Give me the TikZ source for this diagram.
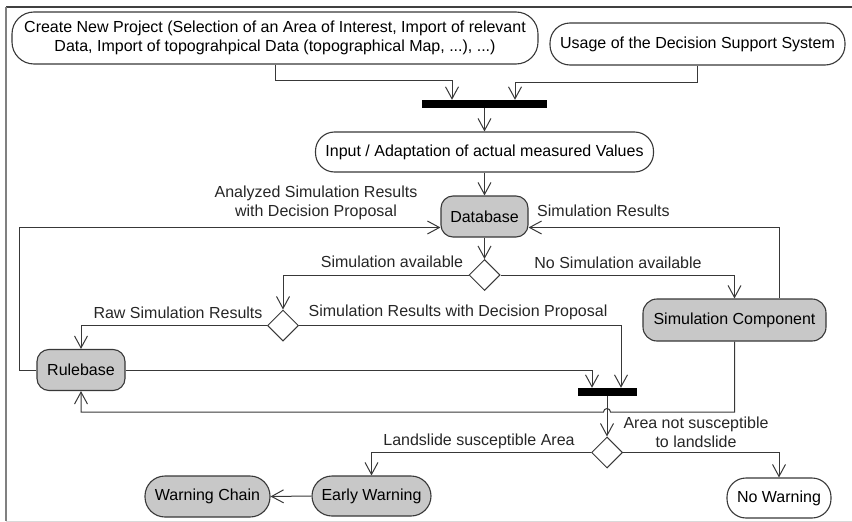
\documentclass[tikz,border=0pt]{standalone}
\usepackage{fontspec}
\setmainfont{Liberation Sans}
\usetikzlibrary{arrows.meta,shapes.geometric}

\definecolor{boxgrey}{HTML}{C8C8C8}
\definecolor{linegrey}{HTML}{383838}

\begin{document}
\begin{tikzpicture}[
    font=\fontsize{16}{19}\selectfont,
    x=1pt, y=-1pt,
    activity/.style={
        rectangle, draw=linegrey, line width=1.1pt, rounded corners=19pt,
        align=center, inner sep=0pt
    },
    component/.style={
        activity, fill=boxgrey, rounded corners=12pt
    },
    decision/.style={
        diamond, draw=linegrey, line width=1pt, fill=white,
        minimum width=31pt, minimum height=31pt, inner sep=0pt
    },
    syncbar/.style={
        rectangle, fill=black, minimum height=8pt, inner sep=0pt
    },
    lbl/.style={align=center, inner sep=0pt, text=black!85},
    conn/.style={-{Straight Barb[length=12pt, width=13pt]}, line width=1pt, draw=linegrey},
]

    \useasboundingbox (0,0) rectangle (852,522);

    % Frame round the diagram.
    \draw[line width=1.2pt, black!75] (6,7) -- (852,7);
    \draw[line width=2pt, black!50] (6,7) -- (6,521);
    \draw[line width=1pt, black!15] (6,521) -- (852,521);

    % ---------- Start of the process ----------
    \node[activity, minimum width=526pt, minimum height=52pt, rounded corners=22pt] (create) at (275, 38)
        {Create New Project (Selection of an Area of Interest, Import of relevant\\Data, Import of topograhpical Data (topographical Map, ...), ...)};
    \node[activity, minimum width=295pt, minimum height=42pt, rounded corners=20pt] (usage) at (697.5, 44)
        {Usage of the Decision Support System};

    \node[syncbar, minimum width=125pt] (join) at (484.5, 104) {};

    \draw[conn] (create.south) -- ++(0,16) -| ([xshift=-32.5pt]join.north);
    \draw[conn] (usage.south) -- ++(0,17) -| ([xshift=30.5pt]join.north);

    \node[activity, minimum width=338pt, minimum height=40pt] (input) at (484.5, 152)
        {Input / Adaptation of actual measured Values};
    \draw[conn] (join.south) -- (input.north);

    % ---------- Database and simulation ----------
    \node[component, minimum width=87pt, minimum height=41pt] (database) at (484.5, 216.5) {Database};
    \draw[conn] (input.south) -- (database.north);

    \node[decision] (simavail) at (484.5, 275) {};
    \draw[conn] (database.south) -- (simavail.north);

    \node[component, minimum width=183pt, minimum height=42pt, rounded corners=14pt] (simcomp) at (734.5, 320) {Simulation Component};
    \draw[conn] (simavail.east) -| (simcomp.north);
    \draw[conn] ([xshift=45pt]simcomp.north) |- ([yshift=-11pt]database.east);

    \node[decision] (rawdec) at (283, 325.5) {};
    \draw[conn] (simavail.west) -| (rawdec.north);

    % ---------- Rulebase ----------
    \node[component, minimum width=88pt, minimum height=41pt] (rulebase) at (81, 370) {Rulebase};
    \draw[conn] (rawdec.west) -| (rulebase.north);
    \draw[conn] (rulebase.west) -- ++(-17,0) |- ([yshift=-11pt]database.west);

    \node[syncbar, minimum width=59pt] (merge) at (607, 392) {};
    \draw[conn] (rawdec.east) -| ([xshift=14pt]merge.north);
    \draw[conn] (rulebase.east) -| ([xshift=-15pt]merge.north);

    % Feedback from the simulation, hopping over the merge line.
    \coordinate (hop) at (merge.south |- 0,412);
    \draw[conn] (simcomp.south) |- ([xshift=3.5pt]hop)
        arc[start angle=0, end angle=180, radius=3.5pt] -| (rulebase.south);

    % ---------- Warning decision ----------
    \node[decision] (warndec) at (607, 452.5) {};
    \draw[conn] (merge.south) -- (warndec.north);

    \node[component, minimum width=119pt, minimum height=40pt, rounded corners=20pt] (early) at (371.5, 496) {Early Warning};
    \node[component, minimum width=125pt, minimum height=41pt, rounded corners=20pt] (chain) at (207.5, 496.5) {Warning Chain};
    \node[activity, minimum width=104pt, minimum height=40pt] (nowarn) at (779, 498) {No Warning};

    \draw[conn] (warndec.west) -| (early.north);
    \draw[conn] (warndec.east) -| (nowarn.north);
    \draw[conn] (early.west) -- (chain.east);

    % ---------- Labels ----------
    \node[lbl] (lbl-analyzed) at (316, 203) {Analyzed Simulation Results\\with Decision Proposal};
    \node[lbl, anchor=west] (lbl-simres) at (537, 211) {Simulation Results};
    \node[lbl] (lbl-avail) at (392, 262) {Simulation available};
    \node[lbl] (lbl-noavail) at (618, 263) {No Simulation available};
    \node[lbl] (lbl-raw) at (178, 313) {Raw Simulation Results};
    \node[lbl] (lbl-proposal) at (458, 312) {Simulation Results with Decision Proposal};
    \node[lbl] (lbl-notsus) at (696, 432) {Area not susceptible\\to landslide};
    \node[lbl] (lbl-sus) at (479, 441) {Landslide susceptible Area};

\end{tikzpicture}
\end{document}
